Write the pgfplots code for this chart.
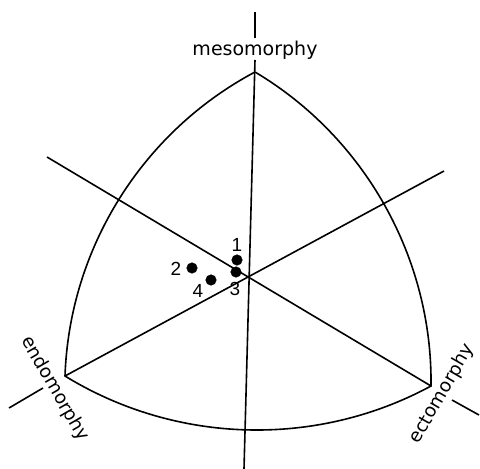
\documentclass[border=0pt]{standalone}
\usepackage{fontspec}
\setmainfont{DejaVu Sans}
\newfontfamily\numfont{Liberation Sans}
\usepackage{pgfplots}
\pgfplotsset{compat=1.18}
\begin{document}
\begin{tikzpicture}
\begin{axis}[name=ax, at={(0,0)}, anchor=south west,
  width=480pt, height=469pt, scale only axis,
  xmin=0, xmax=480, ymin=0, ymax=469, y dir=reverse,
  hide axis, clip=false]
% frame lines
\addplot[black, line width=1.6pt] coordinates {(255,12) (255,38)};
\addplot[black, line width=1.6pt] coordinates {(255,60) (244,469)};
\addplot[black, line width=1.6pt] coordinates {(9,408) (43,388)};
\addplot[black, line width=1.6pt] coordinates {(65,376) (444,171)};
\addplot[black, line width=1.6pt] coordinates {(47,157) (431,386)};
\addplot[black, line width=1.6pt] coordinates {(452,400) (479,415)};
% Reuleaux outline
\draw[black, line width=1.6pt] (axis cs:255,72) to[bend right=30, looseness=0.91] (axis cs:65,376)
  to[bend right=30, looseness=0.91] (axis cs:431,386)
  to[bend right=30, looseness=0.91] (axis cs:255,72);
% data points
\addplot[only marks, mark=*, mark size=5.3pt, black] coordinates {
  (237,260) (192,268) (236,272) (211,280)};
\node[anchor=base, font=\numfont\fontsize{19}{19}\selectfont] at (axis cs:237,251) {1};
\node[anchor=base, font=\numfont\fontsize{19}{19}\selectfont] at (axis cs:176,275) {2};
\node[anchor=base, font=\numfont\fontsize{19}{19}\selectfont] at (axis cs:235,295) {3};
\node[anchor=base, font=\numfont\fontsize{19}{19}\selectfont] at (axis cs:198,297) {4};
% labels
\node[anchor=base, font=\fontsize{19}{19}\selectfont] at (axis cs:255,55) {mesomorphy};
\node[rotate=-60, font=\fontsize{18.5}{18.5}\selectfont] at (axis cs:55,389) {endomorphy};
\node[rotate=60, font=\fontsize{18.5}{18.5}\selectfont] at (axis cs:442,394) {ectomorphy};
\end{axis}
\pgfresetboundingbox
\path (ax.south west) rectangle (ax.north east);
\end{tikzpicture}
\end{document}
